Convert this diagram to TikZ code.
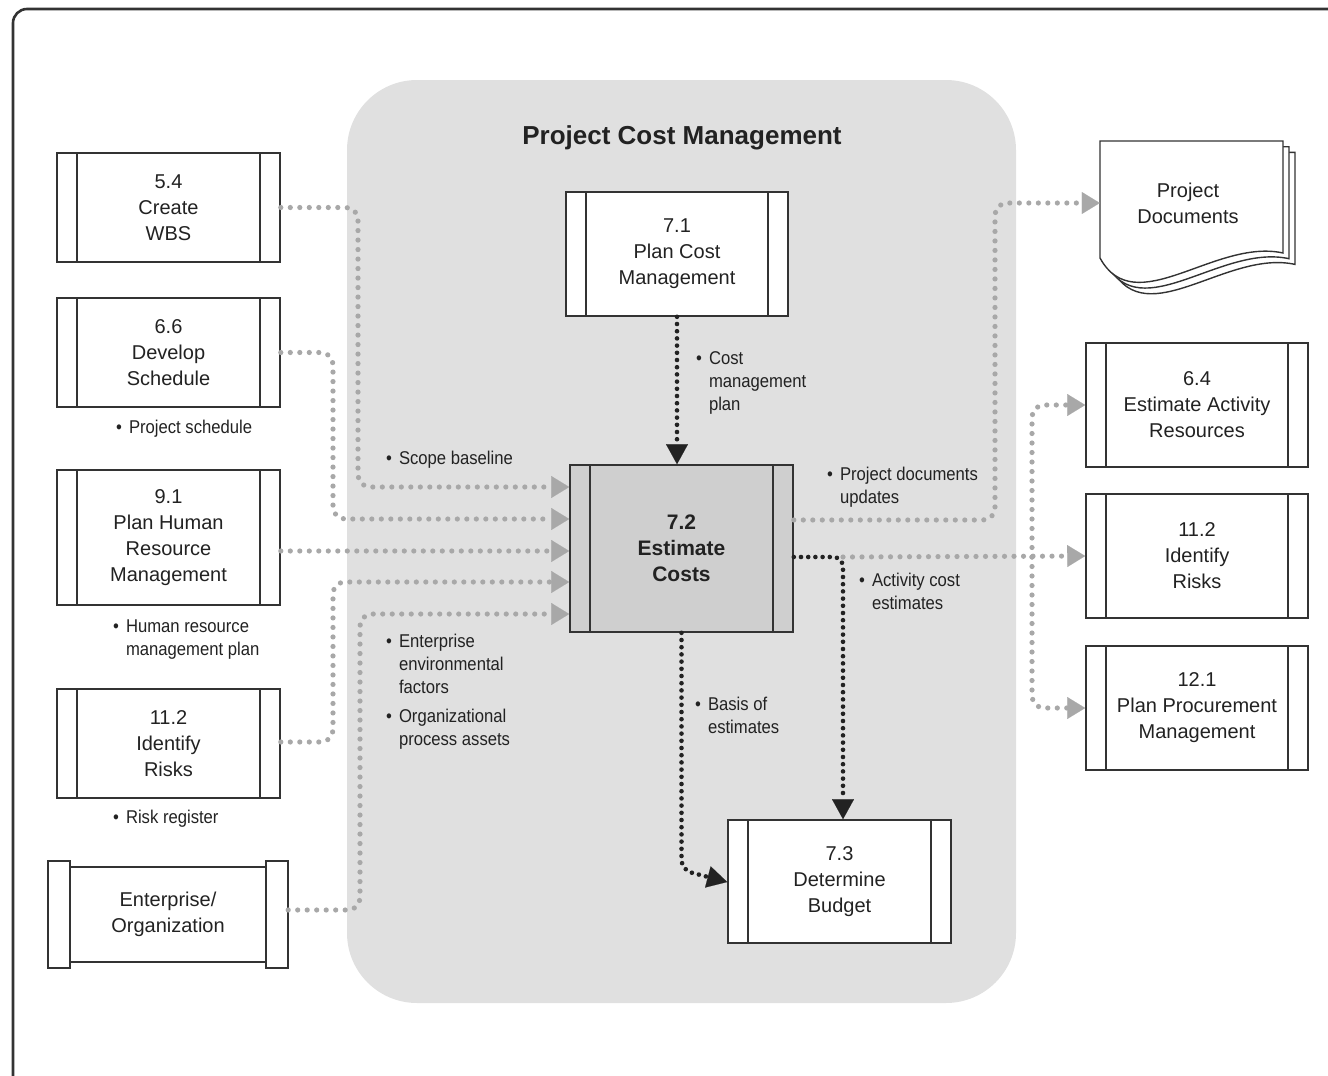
\documentclass[tikz,border=0pt]{standalone}
\usepackage{fontspec}
\setmainfont{Liberation Sans}
\newfontfamily\lblfont[FakeStretch=0.9]{Liberation Sans}
\usetikzlibrary{arrows.meta}

\definecolor{ink}{HTML}{333333}
\definecolor{txt}{HTML}{222222}
\definecolor{panel}{HTML}{E0E0E0}
\definecolor{hot}{HTML}{CFCFCF}
\definecolor{dotgray}{HTML}{A8A8A8}
\definecolor{dotdark}{HTML}{222222}

% bulleted output list with hanging lines
\newcommand{\bitem}[1]{\begin{tabular}[t]{@{}l@{\hspace{7pt}}l@{}}#1\end{tabular}}

\tikzset{
  procbox/.style={draw=ink, line width=1.6pt, fill=white, inner sep=0pt, align=center,
    text=txt, font=\fontsize{20}{26}\selectfont, minimum width=223pt},
  gdot/.style={draw=dotgray, line width=5.2pt, line cap=round, dash pattern=on 0pt off 9.5pt,
    rounded corners=12pt},
  ddot/.style={draw=dotdark, line width=4.6pt, line cap=round, dash pattern=on 0pt off 7.2pt,
    rounded corners=10pt},
  gtip/.style={-{Triangle[length=18pt,width=22pt,line width=0.1pt]}},
  dtip/.style={-{Triangle[length=20pt,width=22pt,line width=0.1pt]}},
  lbl/.style={anchor=base west, inner sep=0pt, text=txt, font=\lblfont\fontsize{18.5}{23}\selectfont},
  frame/.style={draw=ink, line width=2.6pt, rounded corners=14pt},
}

\begin{document}
\begin{tikzpicture}[x=1pt,y=-1pt]
\useasboundingbox (0,0) rectangle (1328,1076);
\clip (0,0) rectangle (1328,1076);

% outer frame, running past the page on the right and bottom
\draw[frame] (13,9) rectangle (1400,1140);

% knowledge area panel
\fill[panel, rounded corners=70pt] (347,80) rectangle (1016,1003);
\node[text=txt, font=\fontsize{26}{30}\selectfont\bfseries] (title) at (682,138) {Project Cost Management};

% process boxes
\node[procbox, minimum height=109pt] (wbs) at (168.5,207.5) {5.4\\Create\\WBS};
\node[procbox, minimum height=109pt] (sched) at (168.5,352.5) {6.6\\Develop\\Schedule};
\node[procbox, minimum height=135pt] (hr) at (168.5,537.5) {9.1\\Plan Human\\Resource\\Management};
\node[procbox, minimum height=109pt] (riskL) at (168.5,743.5) {11.2\\Identify\\Risks};
\node[procbox, minimum width=222pt, minimum height=124pt] (pcm) at (677,254) {7.1\\Plan Cost\\Management};
\node[procbox, fill=hot, minimum height=167pt, font=\fontsize{21}{26}\selectfont\bfseries] (est) at (681.5,548.5) {7.2\\Estimate\\Costs};
\node[procbox, minimum height=123pt] (bud) at (839.5,881.5) {7.3\\Determine\\Budget};
\node[procbox, minimum width=222pt, minimum height=124pt] (act) at (1197,405) {6.4\\Estimate Activity\\Resources};
\node[procbox, minimum width=222pt, minimum height=124pt] (riskR) at (1197,556) {11.2\\Identify\\Risks};
\node[procbox, minimum width=222pt, minimum height=124pt] (proc) at (1197,708) {12.1\\Plan Procurement\\Management};

\foreach \b in {wbs,sched,hr,riskL,pcm,est,bud,act,riskR,proc}{
  \draw[ink, line width=1.6pt]
    ([xshift=21pt]\b.north west) -- ([xshift=21pt]\b.south west)
    ([xshift=-21pt]\b.north east) -- ([xshift=-21pt]\b.south east);
}

% enterprise / organization scroll
\draw[ink, line width=1.6pt, fill=white] (70,867) rectangle (266,962);
\draw[ink, line width=1.6pt, fill=white] (48,861) rectangle (70,968);
\draw[ink, line width=1.6pt, fill=white] (266,861) rectangle (288,968);
\node[align=center, text=txt, font=\fontsize{20}{26}\selectfont, minimum width=240pt,
  minimum height=107pt, inner sep=0pt] (ent) at (168,914.5) {Enterprise/\\Organization};

% project documents stack
\foreach \s in {12,6,0}{
  \begin{scope}[shift={(\s,\s*0.95)}]
    \draw[ink, line width=1.4pt, fill=white]
      (1100,141) -- (1283,141) -- (1283,253)
      .. controls (1215,238) and (1135,322) .. (1100,258) -- cycle;
  \end{scope}
}
\node[align=center, text=txt, font=\fontsize{20}{26}\selectfont, minimum width=176pt,
  inner sep=0pt] (docs) at (1188,203) {Project\\Documents};

% inputs into 7.2
\draw[gdot,gtip] (wbs.east) -- (358,207.5) -- (358,487) -- (est.west |- 0,487);
\draw[gdot,gtip] (sched.east) -- (333,352.5) -- (333,519) -- (est.west |- 0,519);
\draw[gdot,gtip] (hr.east |- 0,551) -- (est.west |- 0,551);
\draw[gdot,gtip] (riskL.east |- 0,742) -- (333,742) -- (333,582) -- (est.west |- 0,582);
\draw[gdot,gtip] (ent.east |- 0,910) -- (360,910) -- (360,614) -- (est.west |- 0,614);

% outputs of 7.2
\coordinate (split) at (843,557);
\coordinate (fork) at (1032,557);
\draw[gdot,gtip] (est.east |- 0,520) -- (995,520) -- (995,203) -- (docs.west);
\draw[gdot,gtip] (split) -- (riskR.west);
\draw[gdot,gtip] (fork) -- (1032,405) -- (act.west);
\draw[gdot,gtip] (fork) -- (1032,708) -- (proc.west);

\draw[ddot,dtip] (pcm.south) -- (pcm.south |- est.north);
\draw[ddot,dtip] (est.east |- 0,557) -- (split) -- (bud.north -| split);
\draw[ddot,dtip] (est.south) -- (681.5,870) -- (bud.west |- 0,882);

% data labels
\node[lbl] (l1) at (116,433) {\bitem{•&Project schedule}};
\node[lbl] (l2) at (386,464) {\bitem{•&Scope baseline}};
\node[lbl] (l3) at (113,632) {\bitem{•&Human resource\\&management plan}};
\node[lbl] (l4) at (113,823) {\bitem{•&Risk register}};
\node[lbl] (l5) at (386,647) {\bitem{•&Enterprise\\&environmental\\&factors}};
\node[lbl] (l6) at (386,722) {\bitem{•&Organizational\\&process assets}};
\node[lbl] (l7) at (696,364) {\bitem{•&Cost\\&management\\&plan}};
\node[lbl] (l8) at (827,480) {\bitem{•&Project documents\\&updates}};
\node[lbl] (l9) at (859,586) {\bitem{•&Activity cost\\&estimates}};
\node[lbl] (l10) at (695,710) {\bitem{•&Basis of\\&estimates}};
\end{tikzpicture}
\end{document}
